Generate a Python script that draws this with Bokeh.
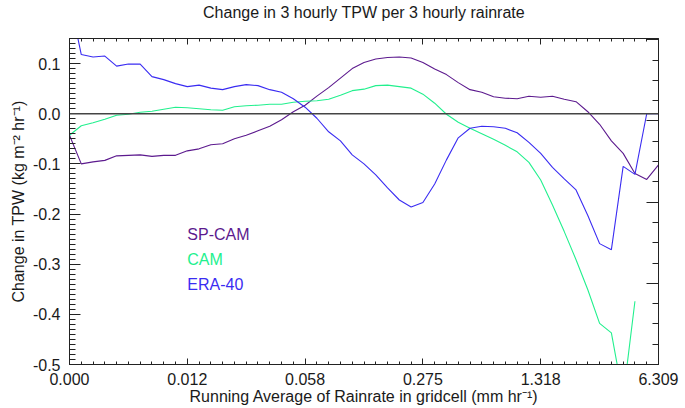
import numpy as np
from bokeh.plotting import figure
from bokeh.models import (Range1d, LinearAxis, FixedTicker, Span, NumeralTickFormatter,
                          CustomLabelingPolicy)
from bokeh.core.properties import value
from bokeh.embed import file_html
from bokeh.resources import INLINE

# ---------------- data ----------------
bin_index = list(range(51))
x_tick_positions = [0, 10, 20, 30, 40, 50]
x_tick_labels = ["0.000", "0.012", "0.058", "0.275", "1.318", "6.309"]

sp_cam = [-0.043, -0.100, -0.096, -0.093, -0.084, -0.083, -0.082, -0.085, -0.083, -0.083,
          -0.074, -0.070, -0.062, -0.060, -0.050, -0.043, -0.034, -0.025, -0.012, 0.004,
          0.017, 0.035, 0.052, 0.071, 0.090, 0.102, 0.109, 0.112, 0.113, 0.111,
          0.102, 0.089, 0.078, 0.062, 0.048, 0.043, 0.034, 0.031, 0.030, 0.035,
          0.033, 0.035, 0.029, 0.024, 0.004, -0.021, -0.054, -0.079, -0.119, -0.131,
          -0.102]

cam = [-0.043, -0.024, -0.018, -0.011, -0.003, -0.001, 0.003, 0.005, 0.009, 0.013,
       0.012, 0.010, 0.008, 0.007, 0.014, 0.016, 0.017, 0.019, 0.019, 0.023,
       0.025, 0.026, 0.029, 0.037, 0.046, 0.049, 0.056, 0.057, 0.054, 0.051,
       0.039, 0.021, -0.001, -0.017, -0.029, -0.040, -0.051, -0.063, -0.076, -0.097,
       -0.132, -0.182, -0.235, -0.291, -0.351, -0.418, -0.437, -0.565, -0.374, np.nan,
       np.nan]

era40 = [0.230, 0.118, 0.113, 0.115, 0.095, 0.099, 0.099, 0.074, 0.068, 0.060,
         0.054, 0.057, 0.051, 0.048, 0.054, 0.058, 0.056, 0.048, 0.043, 0.030,
         0.013, -0.009, -0.036, -0.054, -0.082, -0.100, -0.122, -0.148, -0.172, -0.186,
         -0.177, -0.140, -0.092, -0.048, -0.029, -0.025, -0.026, -0.029, -0.038, -0.057,
         -0.079, -0.107, -0.130, -0.152, -0.203, -0.259, -0.271, -0.105, -0.121, 0.000,
         0.000]

series_names = ["SP-CAM", "CAM", "ERA-40"]
series_colors = ["#5c1a8e", "#22f08e", "#3a2cf2"]
legend_x = [10, 10, 10]
legend_y = [-0.24, -0.29, -0.34]
title_text = "Change in 3 hourly TPW per 3 hourly rainrate"

# ---------------- figure ----------------
FONT = "Liberation Sans"
TXT = "#1a1a1a"
AX = "#222222"

p = figure(width=685, height=408, output_backend="svg", toolbar_location=None,
           x_range=Range1d(0, 50), y_range=Range1d(-0.5, 0.15),
           min_border_left=69, min_border_right=27, min_border_top=38, min_border_bottom=44)
p.outline_line_color = None
p.grid.visible = False
p.background_fill_color = "white"
p.border_fill_color = "white"

xt = FixedTicker(ticks=x_tick_positions, minor_ticks=bin_index)
yt = FixedTicker(ticks=[-0.5, -0.4, -0.3, -0.2, -0.1, 0.0, 0.1],
                 minor_ticks=[round(-0.5 + 0.01 * k, 2) for k in range(66)])

# bottom axis
xa = p.xaxis[0]
xa.ticker = xt
xa.major_label_overrides = {t: l for t, l in zip(x_tick_positions, x_tick_labels)}
xa.axis_label = "Running Average of Rainrate in gridcell (mm hr\u207b\u00b9)"
# left axis
ya = p.yaxis[0]
ya.ticker = yt
ya.formatter = NumeralTickFormatter(format="0.0")
ya.axis_label = "Change in TPW (kg m\u207b\u00b2 hr\u207b\u00b9)"

no_labels = CustomLabelingPolicy(code="""
try { return new indices.constructor(indices.size, 0) } catch (e) { return [] }
""")

# top axis (ticks only; its axis label carries the chart title)
top = LinearAxis(ticker=xt, major_label_policy=no_labels)
top.axis_label = title_text
top.major_label_text_font_size = "1px"
top.major_label_standoff = 0
top.axis_label_standoff = 14

for ax in (xa, ya, top):
    ax.axis_line_color = AX
    ax.major_tick_line_color = AX
    ax.minor_tick_line_color = AX
    ax.major_tick_out = 0
    ax.minor_tick_out = 0
    ax.axis_label_text_font = FONT
    ax.axis_label_text_font_size = "16px"
    ax.axis_label_text_font_style = "normal"
    ax.axis_label_text_color = TXT
for ax in (xa, ya):
    ax.major_label_text_font = FONT
    ax.major_label_text_font_size = "16px"
    ax.major_label_text_color = TXT

xa.major_tick_in = 6
xa.minor_tick_in = 3
xa.major_label_standoff = 8
xa.axis_label_standoff = 0
ya.major_tick_in = 11
ya.minor_tick_in = 6
ya.major_label_standoff = 9
ya.axis_label_standoff = 3
top.major_tick_in = 6
top.minor_tick_in = 3
p.add_layout(top, "above")

# right axis (ticks only, separate scale)
p.extra_y_ranges = {"right": Range1d(0, 16.06)}
rt = FixedTicker(ticks=[0, 4, 8, 12, 16], minor_ticks=list(range(17)))
right = LinearAxis(y_range_name="right", ticker=rt, major_label_policy=no_labels)
right.major_tick_in = 12
right.minor_tick_in = 6
right.major_tick_out = 0
right.minor_tick_out = 0
right.major_label_text_font_size = "1px"
right.major_label_standoff = 0
right.axis_line_color = AX
right.major_tick_line_color = AX
right.minor_tick_line_color = AX
p.add_layout(right, "right")

# zero line
p.add_layout(Span(location=0, dimension="width", line_color="#444444", line_width=1.3))

# series
for ys, c in zip([sp_cam, cam, era40], series_colors):
    p.line(bin_index, ys, line_color=c, line_width=1.1)

# legend text
p.text(x=legend_x, y=legend_y, text=series_names, text_color=series_colors,
       text_font=value(FONT), text_font_size="16px", text_align="left",
       text_baseline="middle")

open("out.html", "w").write(file_html(p, INLINE))
